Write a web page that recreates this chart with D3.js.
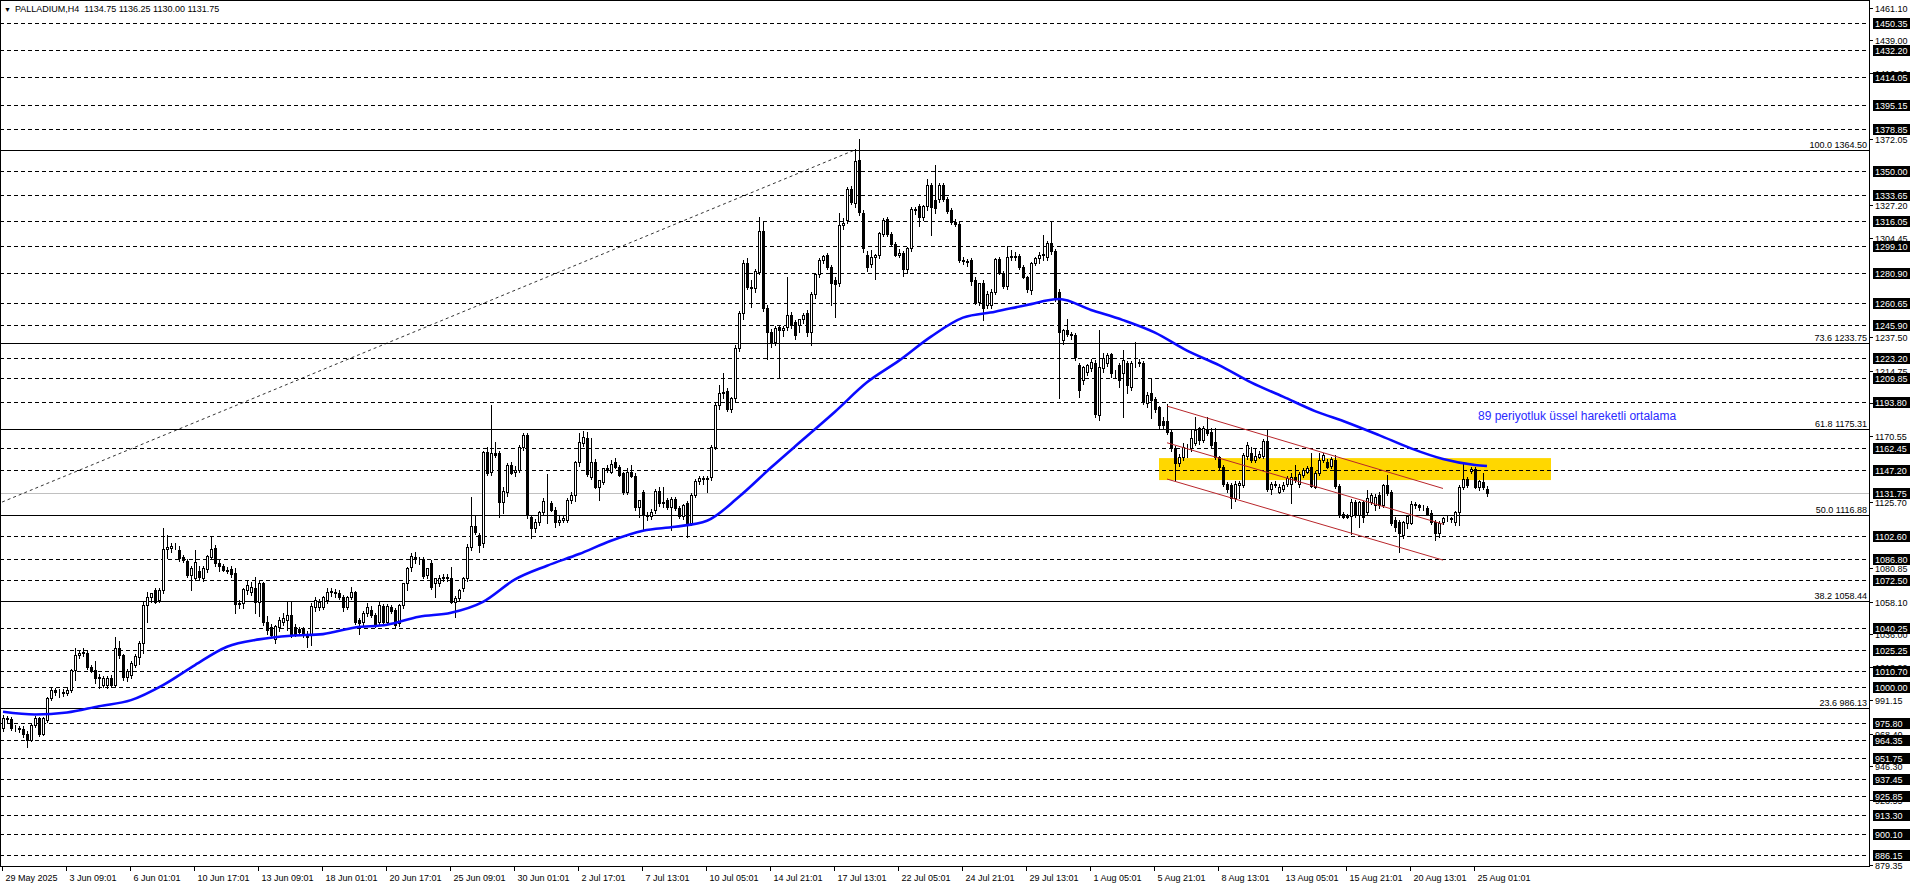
<!DOCTYPE html>
<html><head><meta charset="utf-8">
<script src="https://cdn.jsdelivr.net/npm/d3@7"></script>
<style>html,body{margin:0;padding:0;background:#fff;overflow:hidden}svg{display:block}</style>
</head><body>
<svg id="c" width="1916" height="888"></svg>
<script>
// ---------- DATA ----------
const opens=[972.0,978.8,978.1,972.4,972.0,971.3,968.0,964.1,974.3,978.8,
968.5,977.6,992.4,998.0,996.9,996.4,996.2,998.0,1011.6,1021.8,
1022.9,1023.5,1013.8,1011.6,1007.0,1001.4,1001.4,1006.4,1001.4,1026.3,
1021.8,1007.0,1008.2,1015.0,1020.6,1029.7,1055.7,1060.9,1065.9,1059.1,
1065.9,1093.5,1094.1,1095.7,1093.0,1088.5,1085.3,1076.0,1073.8,1079.0,
1073.8,1079.9,1088.5,1094.1,1084.0,1082.2,1079.4,1080.1,1077.2,1056.4,
1056.8,1065.9,1064.7,1067.0,1057.9,1070.8,1044.4,1041.0,1032.4,1041.0,
1044.4,1045.5,1048.9,1041.0,1039.2,1039.7,1036.4,1035.3,1054.6,1054.6,
1054.6,1059.1,1064.7,1064.7,1063.6,1061.3,1054.6,1060.9,1064.3,1045.5,
1044.4,1050.0,1052.3,1048.9,1044.4,1055.0,1044.4,1054.1,1052.3,1043.2,
1055.7,1070.4,1081.7,1088.0,1086.2,1086.7,1076.0,1083.9,1070.4,1070.4,
1073.8,1074.5,1073.8,1057.9,1060.2,1067.0,1073.8,1095.3,1109.3,1103.2,
1097.5,1159.7,1146.2,1158.6,1158.6,1125.8,1132.6,1150.7,1146.2,1147.3,
1163.1,1171.0,1115.6,1107.7,1112.2,1119.0,1125.8,1124.7,1120.2,1112.2,
1113.4,1113.4,1126.9,1130.3,1152.9,1165.8,1169.2,1142.8,1152.9,1136.0,
1139.4,1148.4,1146.2,1152.9,1149.6,1145.0,1132.6,1146.2,1143.2,1122.4,
1132.6,1116.8,1116.1,1120.2,1133.3,1124.7,1126.9,1122.0,1127.4,1121.3,
1116.1,1124.7,1111.6,1130.3,1140.0,1141.6,1140.9,1142.8,1163.1,1191.4,
1199.8,1201.1,1188.4,1195.9,1229.9,1253.6,1288.0,1271.5,1270.6,1281.9,
1309.5,1257.0,1241.2,1234.4,1244.1,1242.3,1244.1,1252.5,1247.9,1245.7,
1249.5,1254.1,1241.2,1266.7,1280.3,1289.8,1293.2,1285.3,1276.2,1274.0,
1313.5,1316.9,1337.7,1328.2,1357.7,1321.5,1293.2,1287.1,1292.1,1293.2,
1307.4,1317.4,1307.2,1300.7,1293.2,1294.8,1283.5,1297.7,1324.2,1326.4,
1318.8,1326.4,1340.7,1330.5,1331.0,1340.7,1331.0,1323.7,1315.8,1314.2,
1289.8,1289.0,1289.8,1276.2,1261.5,1274.0,1259.3,1259.3,1268.3,1290.2,
1281.2,1272.1,1292.1,1292.5,1292.5,1285.3,1278.0,1269.4,1288.0,1290.9,
1293.2,1292.1,1301.6,1295.9,1268.3,1235.5,1242.3,1239.6,1238.9,1218.5,
1208.4,1214.0,1216.3,1220.1,1184.6,1216.3,1219.7,1226.0,1212.9,1218.5,
1212.9,1219.7,1203.8,1219.7,1220.1,1220.1,1192.5,1199.3,1195.2,1189.8,
1180.8,1180.8,1173.3,1162.0,1151.8,1155.9,1163.1,1162.0,1165.4,1175.6,
1167.5,1175.0,1173.3,1166.5,1155.9,1149.6,1137.8,1137.1,1128.1,1137.1,
1137.1,1156.8,1159.1,1154.1,1155.9,1156.8,1167.0,1134.2,1137.8,1132.6,
1134.2,1137.8,1137.8,1142.3,1137.8,1143.9,1146.2,1149.6,1136.0,1145.0,
1154.1,1153.0,1150.0,1154.1,1136.4,1117.4,1115.6,1116.1,1125.8,1116.8,
1125.3,1119.0,1125.8,1123.6,1130.3,1123.6,1137.1,1132.6,1113.5,1112.3,
1103.2,1111.1,1111.6,1124.2,1123.6,1122.4,1121.3,1118.4,1112.3,1104.3,
1112.3,1114.5,1114.5,1112.3,1119.0,1136.0,1141.0,1146.5,1147.8,1136.0,
1139.4,1134.75];
const highs=[981.0,980.5,980.0,974.0,973.5,973.5,970.0,975.5,980.5,979.5,
979.5,993.5,1000.3,999.5,999.0,998.5,1000.0,1012.5,1026.3,1024.5,
1026.3,1025.0,1015.0,1018.0,1009.0,1007.5,1007.5,1008.0,1033.7,1031.0,
1022.5,1012.5,1017.5,1022.5,1031.0,1058.0,1064.7,1064.0,1067.0,1067.0,
1107.7,1103.2,1098.0,1097.5,1096.0,1090.0,1087.0,1082.0,1093.0,1082.0,
1082.5,1090.0,1102.5,1096.5,1086.0,1083.5,1081.5,1082.0,1081.0,1059.0,
1067.5,1072.0,1071.5,1074.5,1072.0,1071.5,1048.0,1043.0,1042.5,1047.5,
1050.0,1058.6,1058.6,1043.0,1041.0,1041.0,1038.0,1057.0,1061.3,1060.0,
1062.0,1067.0,1067.0,1066.5,1066.0,1062.5,1062.0,1068.1,1065.5,1047.0,
1052.0,1057.0,1055.0,1050.0,1058.0,1056.5,1056.5,1056.0,1053.5,1056.5,
1071.0,1081.7,1090.8,1091.5,1088.0,1088.0,1081.0,1086.0,1074.0,1076.0,
1076.5,1076.5,1081.7,1062.0,1066.5,1074.5,1097.0,1128.7,1116.8,1104.5,
1160.5,1163.1,1191.4,1166.5,1160.0,1136.0,1152.0,1153.0,1150.0,1164.0,
1172.2,1172.2,1117.0,1114.0,1119.5,1128.0,1144.6,1126.5,1122.0,1116.0,
1117.0,1128.0,1132.6,1153.5,1172.2,1174.0,1173.4,1168.8,1155.0,1140.0,
1149.0,1151.0,1154.0,1155.5,1151.0,1146.0,1149.0,1150.5,1145.0,1127.0,
1134.0,1118.5,1121.0,1134.5,1136.0,1136.0,1128.5,1129.2,1129.0,1123.0,
1124.5,1126.0,1132.0,1141.5,1143.0,1143.0,1143.5,1164.0,1192.5,1205.0,
1212.9,1203.0,1197.0,1232.0,1255.0,1290.0,1291.0,1276.0,1284.0,1319.2,
1315.8,1259.0,1243.0,1245.0,1246.0,1245.0,1278.5,1254.5,1249.0,1250.0,
1254.0,1256.0,1268.0,1281.0,1291.0,1293.5,1294.5,1286.5,1278.0,1321.5,
1318.0,1339.0,1340.0,1364.9,1371.7,1324.0,1296.0,1296.5,1294.0,1309.0,
1318.0,1319.0,1309.0,1302.0,1297.0,1296.0,1298.5,1325.5,1326.0,1328.0,
1327.0,1344.5,1342.0,1354.3,1342.0,1342.0,1332.5,1325.0,1317.5,1316.0,
1292.0,1290.5,1291.0,1278.0,1274.5,1276.0,1268.5,1270.0,1291.0,1291.5,
1282.5,1299.3,1296.5,1295.0,1294.0,1286.5,1279.0,1288.5,1292.0,1295.0,
1306.8,1302.5,1316.0,1297.0,1270.0,1243.0,1250.0,1241.0,1240.0,1220.0,
1218.0,1219.5,1222.5,1222.0,1242.3,1226.5,1226.5,1227.0,1215.5,1220.0,
1228.7,1221.0,1221.5,1234.4,1222.5,1221.0,1200.0,1209.5,1197.0,1191.0,
1183.0,1192.1,1174.5,1163.5,1158.0,1165.4,1165.0,1174.4,1183.0,1176.7,
1177.0,1183.0,1175.6,1175.6,1157.0,1151.0,1139.5,1138.5,1140.0,1140.0,
1159.0,1166.5,1162.7,1162.0,1160.0,1168.5,1174.4,1139.5,1140.0,1137.5,
1139.0,1143.5,1145.0,1150.7,1146.0,1149.0,1150.0,1159.1,1146.5,1158.6,
1159.0,1155.0,1156.0,1157.5,1137.5,1118.5,1117.5,1127.5,1127.0,1126.5,
1126.5,1133.5,1132.0,1131.0,1132.5,1137.8,1143.9,1134.0,1115.6,1113.5,
1113.0,1116.5,1126.5,1125.5,1124.5,1123.5,1123.0,1120.0,1113.5,1112.5,
1115.5,1116.0,1115.5,1119.5,1137.0,1151.4,1142.5,1149.1,1149.5,1140.5,
1145.1,1136.25];
const lows=[970.5,976.5,971.0,970.5,969.5,966.5,959.6,963.5,973.0,967.0,
967.5,976.5,991.0,994.5,993.0,994.0,994.5,996.5,1005.0,1019.5,
1021.0,1012.5,1010.0,1003.0,999.5,1000.0,999.5,1000.0,1000.5,1020.0,
1005.0,1004.5,1006.5,1013.5,1016.0,1022.9,1044.0,1058.0,1057.0,1058.0,
1064.0,1087.4,1092.0,1093.5,1085.8,1085.0,1075.0,1065.9,1072.5,1073.0,
1072.0,1078.0,1087.0,1082.5,1079.0,1078.5,1077.5,1075.0,1050.0,1053.5,
1054.0,1063.5,1062.5,1050.5,1048.5,1042.0,1036.0,1034.0,1029.7,1038.0,
1042.0,1039.0,1034.0,1035.0,1036.0,1034.0,1027.4,1028.5,1052.0,1052.5,
1053.0,1057.0,1062.0,1061.5,1060.0,1052.0,1053.0,1059.5,1043.0,1036.4,
1042.0,1048.0,1047.5,1040.5,1042.0,1043.0,1043.0,1050.5,1039.9,1041.5,
1054.0,1066.0,1079.0,1084.0,1083.5,1074.0,1074.0,1066.5,1061.3,1068.5,
1072.0,1072.0,1056.8,1047.8,1058.5,1065.0,1072.0,1093.0,1104.0,1091.9,
1095.0,1143.9,1144.0,1156.0,1115.6,1117.9,1130.0,1144.5,1143.0,1146.0,
1161.0,1115.0,1100.9,1105.0,1110.0,1117.0,1111.1,1119.5,1108.4,1110.0,
1112.0,1112.0,1125.0,1126.0,1150.0,1163.5,1143.0,1141.0,1135.0,1126.9,
1138.0,1146.0,1145.0,1148.5,1143.0,1131.0,1131.0,1142.5,1120.0,1115.6,
1106.6,1113.5,1114.0,1118.0,1123.0,1122.0,1121.0,1106.6,1120.0,1114.5,
1114.0,1102.0,1110.0,1129.0,1138.0,1138.0,1132.6,1140.5,1161.5,1189.0,
1196.0,1187.5,1187.0,1194.0,1228.0,1250.0,1270.0,1258.1,1268.0,1280.0,
1255.0,1222.5,1230.9,1232.0,1209.5,1238.0,1242.0,1244.0,1236.0,1241.0,
1247.0,1238.0,1232.0,1264.0,1278.0,1288.0,1284.0,1259.3,1251.3,1272.0,
1311.0,1315.0,1328.0,1326.0,1320.0,1295.0,1282.5,1285.0,1276.7,1291.0,
1306.0,1306.0,1299.5,1292.5,1291.5,1279.0,1281.0,1296.0,1321.0,1313.0,
1317.0,1324.0,1306.8,1322.0,1329.0,1329.5,1322.0,1314.5,1313.0,1288.5,
1287.0,1286.0,1273.0,1260.0,1259.0,1249.1,1257.0,1257.5,1266.5,1280.0,
1271.0,1270.0,1290.0,1290.0,1284.0,1277.5,1268.0,1267.0,1286.5,1288.0,
1290.0,1290.0,1294.0,1262.0,1195.9,1233.0,1238.0,1236.5,1222.0,1197.0,
1206.0,1212.0,1214.5,1183.0,1181.0,1214.0,1218.0,1210.6,1210.0,1203.8,
1183.0,1199.3,1201.5,1217.5,1218.0,1192.0,1190.0,1182.4,1187.0,1176.0,
1176.0,1172.0,1160.5,1140.5,1150.0,1154.0,1156.0,1160.5,1164.0,1165.0,
1166.0,1171.0,1163.0,1154.5,1148.0,1136.5,1132.6,1121.3,1126.5,1128.1,
1135.5,1155.0,1152.5,1152.5,1155.2,1155.5,1133.0,1131.0,1135.5,1131.5,
1133.0,1136.5,1124.7,1139.0,1136.0,1142.5,1145.0,1135.5,1135.0,1144.0,
1153.0,1148.5,1149.0,1135.0,1115.5,1114.5,1114.5,1103.9,1115.5,1108.8,
1112.3,1117.5,1124.5,1120.0,1121.5,1122.0,1130.5,1110.0,1106.0,1091.9,
1101.0,1107.7,1110.5,1121.5,1120.5,1120.0,1116.5,1111.0,1099.8,1102.1,
1111.0,1112.5,1112.3,1110.0,1110.0,1134.5,1136.0,1145.5,1135.0,1134.0,
1134.5,1130.0];
const closes=[978.8,978.1,972.4,972.0,971.3,968.0,964.1,974.3,978.8,968.5,
978.8,992.4,998.0,996.9,996.4,996.2,998.4,1011.6,1021.8,1022.9,
1024.0,1013.8,1011.1,1005.9,1005.9,1006.4,1006.4,1001.4,1026.3,1021.8,
1007.0,1011.1,1016.1,1021.1,1029.7,1055.7,1060.9,1063.6,1057.9,1065.9,
1093.5,1095.3,1095.7,1095.5,1087.4,1086.2,1076.0,1080.6,1085.1,1074.9,
1080.6,1088.9,1093.5,1084.0,1082.2,1079.4,1079.0,1076.7,1056.4,1057.3,
1066.3,1069.3,1068.1,1057.9,1070.8,1044.4,1038.7,1035.3,1041.4,1045.5,
1046.6,1048.9,1036.4,1036.4,1037.6,1035.3,1034.2,1055.0,1059.1,1057.9,
1060.9,1064.7,1065.2,1063.6,1061.3,1054.6,1060.9,1064.7,1044.4,1043.7,
1050.0,1054.1,1048.9,1042.1,1055.7,1044.4,1055.0,1051.7,1042.1,1055.7,
1070.4,1080.6,1088.9,1086.7,1086.6,1075.3,1080.6,1068.1,1073.8,1073.8,
1074.5,1074.0,1057.9,1060.6,1065.9,1073.8,1095.3,1109.3,1105.4,1096.4,
1159.7,1145.0,1158.6,1157.5,1125.8,1133.3,1150.7,1145.0,1147.3,1163.1,
1171.0,1116.8,1107.7,1112.2,1119.0,1126.0,1125.3,1120.2,1112.2,1113.4,
1114.5,1126.9,1130.3,1152.9,1166.5,1169.9,1144.6,1152.9,1136.0,1140.5,
1148.4,1147.3,1151.4,1149.6,1143.9,1132.6,1146.2,1143.2,1122.4,1126.9,
1116.8,1116.1,1119.0,1133.3,1124.7,1125.8,1122.4,1127.4,1121.3,1116.1,
1123.5,1111.6,1130.3,1140.0,1141.6,1140.9,1142.1,1163.1,1191.4,1199.8,
1200.5,1188.4,1195.9,1229.9,1253.6,1288.0,1271.5,1270.6,1282.6,1309.5,
1257.0,1241.2,1234.4,1243.4,1242.3,1243.4,1252.5,1245.7,1238.9,1249.5,
1252.5,1241.2,1266.7,1280.3,1289.8,1292.5,1285.3,1274.4,1273.5,1313.5,
1314.7,1337.7,1329.4,1357.2,1322.6,1297.7,1285.3,1292.1,1293.2,1307.9,
1316.9,1307.2,1300.7,1293.2,1294.8,1283.5,1297.7,1324.2,1324.0,1318.8,
1326.4,1340.7,1325.5,1324.9,1340.7,1331.0,1323.3,1315.8,1314.2,1289.8,
1289.0,1288.7,1275.8,1261.5,1274.0,1257.0,1266.7,1268.3,1290.2,1280.7,
1272.1,1292.1,1292.5,1292.1,1285.3,1278.5,1269.9,1288.0,1290.9,1293.2,
1293.9,1301.1,1296.1,1263.8,1241.2,1242.3,1239.6,1238.9,1223.7,1201.6,
1217.4,1218.5,1220.8,1185.3,1217.4,1223.1,1225.3,1212.9,1213.3,1208.4,
1221.9,1205.0,1219.7,1220.1,1220.5,1193.7,1198.2,1194.8,1188.5,1177.8,
1177.8,1173.3,1162.0,1151.8,1155.9,1163.1,1162.7,1168.8,1174.4,1167.5,
1175.6,1172.2,1164.3,1155.9,1149.6,1137.8,1134.2,1128.1,1137.8,1138.2,
1157.5,1164.3,1154.1,1156.8,1158.1,1167.0,1134.2,1137.8,1137.4,1135.5,
1137.1,1141.6,1142.8,1140.5,1144.6,1147.3,1148.4,1136.4,1145.0,1154.1,
1157.5,1149.6,1154.5,1136.4,1116.8,1115.6,1116.1,1125.8,1116.8,1125.8,
1115.6,1128.1,1130.3,1129.2,1123.6,1137.1,1131.5,1111.1,1108.9,1104.3,
1112.3,1116.1,1124.2,1123.6,1122.4,1122.0,1117.5,1112.3,1104.3,1111.6,
1114.5,1114.9,1113.8,1119.0,1136.0,1141.0,1137.1,1147.8,1136.0,1140.1,
1135.5,1131.75];

const emaBars=[0,8,16,24,32,40,48,56,64,72,80,88,96,104,112,120,128,136,144,152,160,168,176,184,192,200,208,216,224,232,240,248,256,264,272,280,288,296,304,312,320,328,336,344,352,360,368,371];
const emaValues=[983.3,981.5,982.8,987.1,991.2,1001.4,1015.0,1027.4,1032.4,1034.9,1036.0,1040.5,1042.3,1047.8,1050.5,1057.9,1073.1,1082.4,1090.3,1099.3,1106.1,1108.8,1112.9,1129.2,1149.0,1168.0,1186.9,1206.8,1221.5,1237.8,1250.7,1254.7,1259.3,1263.3,1255.9,1249.0,1240.5,1228.3,1218.5,1206.8,1197.1,1187.3,1179.6,1171.0,1162.0,1154.8,1150.7,1150.0];

const levelPrices=[1450.35,1432.20,1414.05,1395.15,1378.85,1350.00,1333.65,1316.05,1299.10,1280.90,1260.65,1245.90,1223.20,1209.85,1193.80,1162.45,1147.20,1102.60,1086.80,1072.50,1040.25,1025.25,1010.70,1000.00,975.80,964.35,951.75,937.45,925.85,913.30,900.10,886.15];
const currentPrice=1131.75;
const fibPercents=["100.0","73.6","61.8","50.0","38.2","23.6"];
const fibPrices=[1364.50,1233.75,1175.31,1116.88,1058.44,986.13];
const fibTrendBars=[-229,213];
const fibTrendPrices=[869.26,1364.50];
// price-scale labels (those fully hidden under the level boxes are omitted)
const axisTicks=["1461.10","1439.00","1416.90","1372.05","1327.20","1304.45","1237.50","1214.75","1192.65","1170.55","1125.70","1080.85","1058.10","1036.00","1013.90","991.15","968.40","946.30","923.55","879.35"];
const timeLabels=["29 May 2025","3 Jun 09:01","6 Jun 01:01","10 Jun 17:01","13 Jun 09:01","18 Jun 01:01","20 Jun 17:01","25 Jun 09:01","30 Jun 01:01","2 Jul 17:01","7 Jul 13:01","10 Jul 05:01","14 Jul 21:01","17 Jul 13:01","22 Jul 05:01","24 Jul 21:01","29 Jul 13:01","1 Aug 05:01","5 Aug 21:01","8 Aug 13:01","13 Aug 05:01","15 Aug 21:01","20 Aug 13:01","25 Aug 01:01"];
const timeLabelStep=16;
const channelBars=[291,360];
const channelTop=[1190.7,1134.8];
const channelMid=[1165.8,1110.6];
const channelLow=[1141.2,1086.2];
const zoneBars=[289,387];
const zonePrices=[1140.5,1155.4];
const headerText="PALLADIUM,H4  1134.75 1136.25 1130.00 1131.75";
const emaNote="89 periyotluk üssel hareketli ortalama";
const emaNoteAt=[370,1181];

// ---------- LAYOUT ----------
const W=1916,H=888,plotR=1869,plotB=866;
const FONT="'Liberation Sans', Arial, sans-serif";
const x=d3.scaleLinear().domain([0,1]).range([3,7]);
const y=d3.scaleLinear().domain([879.35,1461.10]).range([865,7.5]);
const py=v=>Math.round(y(v))+0.5;
const px=b=>Math.round(x(b));

const svg=d3.select('#c');
svg.append('rect').attr('width',W).attr('height',H).attr('fill','#fff');
svg.append('clipPath').attr('id','pc').append('rect').attr('x',1).attr('y',1).attr('width',plotR-1).attr('height',plotB-1);
const g=svg.append('g').attr('clip-path','url(#pc)');

// yellow zone
g.append('rect')
  .attr('x',x(zoneBars[0])).attr('width',x(zoneBars[1])-x(zoneBars[0]))
  .attr('y',y(zonePrices[1])).attr('height',y(zonePrices[0])-y(zonePrices[1]))
  .attr('fill','#FFD700');

// dashed levels
g.selectAll('line.lvl').data(levelPrices).join('line').attr('class','lvl')
  .attr('x1',0).attr('x2',plotR).attr('y1',py).attr('y2',py)
  .attr('stroke','#000').attr('stroke-width',1).attr('stroke-dasharray','4,3')
  .attr('shape-rendering','crispEdges');
// current price line
g.append('line').attr('x1',0).attr('x2',plotR).attr('y1',py(currentPrice)).attr('y2',py(currentPrice))
  .attr('stroke','#c0c0c0').attr('shape-rendering','crispEdges');
// fib levels
g.selectAll('line.fib').data(fibPrices).join('line').attr('class','fib')
  .attr('x1',0).attr('x2',plotR).attr('y1',py).attr('y2',py)
  .attr('stroke','#000').attr('shape-rendering','crispEdges');
g.selectAll('text.fib').data(fibPrices).join('text').attr('class','fib')
  .attr('x',plotR-2).attr('y',d=>Math.round(y(d))-2)
  .attr('text-anchor','end').attr('font-family',FONT).attr('font-size',9).attr('fill','#000')
  .text((d,i)=>fibPercents[i]+' '+d.toFixed(2));
// fib trend dotted line
g.append('line')
  .attr('x1',x(fibTrendBars[0])).attr('y1',y(fibTrendPrices[0]))
  .attr('x2',x(fibTrendBars[1])).attr('y2',y(fibTrendPrices[1]))
  .attr('stroke','#000').attr('stroke-width',0.8).attr('stroke-dasharray','3,3');

// candles
const idx=d3.range(Math.min(opens.length,highs.length,lows.length,closes.length));
const cg=g.append('g').attr('shape-rendering','crispEdges');
cg.selectAll('line.w').data(idx).join('line').attr('class','w')
  .attr('x1',i=>px(i)+0.5).attr('x2',i=>px(i)+0.5)
  .attr('y1',i=>Math.round(y(highs[i]))).attr('y2',i=>Math.round(y(lows[i]))+1)
  .attr('stroke','#000');
cg.selectAll('rect.b').data(idx).join('rect').attr('class','b')
  .attr('x',i=>px(i)-0.5).attr('width',2)
  .attr('y',i=>Math.round(y(Math.max(opens[i],closes[i])))+0.5)
  .attr('height',i=>Math.max(0,Math.round(y(Math.min(opens[i],closes[i])))-Math.round(y(Math.max(opens[i],closes[i])))))
  .attr('fill',i=>closes[i]>=opens[i]?'#fff':'#000')
  .attr('stroke','#000');

// channel
[channelTop,channelMid,channelLow].forEach(c=>{
  g.append('line').attr('x1',x(channelBars[0])).attr('y1',y(c[0]))
    .attr('x2',x(channelBars[1])).attr('y2',y(c[1]))
    .attr('stroke','#b8262b').attr('stroke-width',1);
});

// EMA
g.append('path').datum(emaValues)
  .attr('d',d3.line().x((d,i)=>x(emaBars[i])).y(d=>y(d)).curve(d3.curveMonotoneX))
  .attr('fill','none').attr('stroke','#0a0aff').attr('stroke-width',2.6);

// note
svg.append('text').attr('x',x(emaNoteAt[0])-5).attr('y',y(emaNoteAt[1])).attr('font-family',FONT).attr('font-size',12)
  .attr('fill','#2a2aff').text(emaNote);

// frame
svg.append('rect').attr('x',0.5).attr('y',0.5).attr('width',plotR).attr('height',plotB)
  .attr('fill','none').attr('stroke','#000').attr('shape-rendering','crispEdges');

// header
svg.append('text').attr('x',4).attr('y',12).attr('font-family',FONT).attr('font-size',7).attr('fill','#000').text('▼');
svg.append('text').attr('x',15).attr('y',12).attr('font-family',FONT).attr('font-size',9).attr('fill','#000').attr('xml:space','preserve').text(headerText);

// right axis plain ticks
const ra=svg.append('g').attr('font-family',FONT).attr('font-size',9);
axisTicks.forEach(t=>{
  const v=+t, yy=py(v);
  ra.append('line').attr('x1',plotR+1).attr('x2',plotR+4).attr('y1',yy).attr('y2',yy).attr('stroke','#000').attr('shape-rendering','crispEdges');
  ra.append('text').attr('x',plotR+6).attr('y',Math.round(y(v))+3.5).attr('fill','#000').text(t);
});
// boxed labels
levelPrices.concat([currentPrice]).forEach(v=>{
  const yy=Math.round(y(v));
  ra.append('rect').attr('x',plotR+4).attr('y',yy-5).attr('width',37).attr('height',11).attr('fill','#000');
  ra.append('text').attr('x',plotR+6).attr('y',yy+3.5).attr('fill','#fff').text(v.toFixed(2));
});

// bottom axis
const ba=svg.append('g').attr('font-family',FONT).attr('font-size',9);
timeLabels.forEach((t,k)=>{
  const xx=px(k*timeLabelStep)-1+0.5;
  ba.append('line').attr('x1',xx).attr('x2',xx).attr('y1',plotB).attr('y2',plotB+5).attr('stroke','#000').attr('shape-rendering','crispEdges');
  ba.append('text').attr('x',xx+3).attr('y',plotB+15).attr('fill','#000').text(t);
});
</script>
</body></html>
